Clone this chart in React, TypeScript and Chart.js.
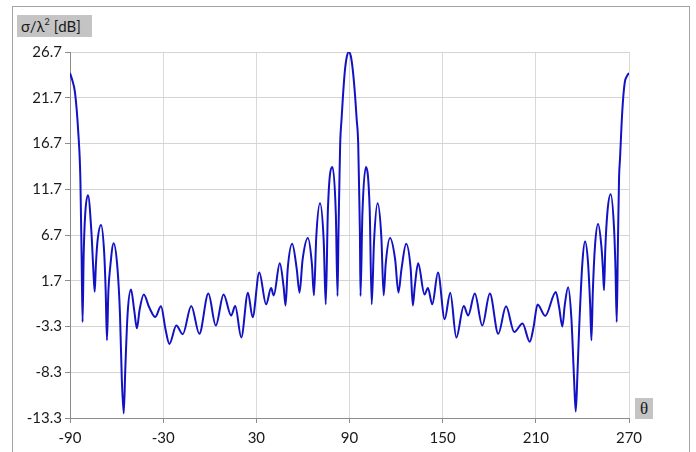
import React, { useEffect, useRef } from "react";
import { Chart, registerables } from "chart.js";

Chart.register(...registerables);

// Aspect angle θ in degrees
const theta: number[] = [
  -90, -88.5, -86.8, -84.7, -83.3, -82.5, -81.9, -81.2, -80.2, -78.4,
  -76.2, -75.0, -74.1, -73.3, -72.3, -70.0, -68.0, -67.0, -66.2, -65.3,
  -64.1, -61.9, -59.5, -57.8, -56.6, -55.4, -54.4, -52.9, -50.7, -48.6,
  -46.9, -45.2, -42.5, -39.0, -35.1, -31.4, -28.5, -26.0, -21.5, -17.4,
  -11.9, -6.7, -0.9, 3.9, 8.9, 13.8, 16.4, 20.3, 24.6, 27.6,
  31.9, 36.3, 39.5, 41.2, 45.1, 47.6, 48.8, 50.2, 53.1, 56.0,
  57.8, 59.8, 63.2, 65.8, 67.1, 68.6, 71.0, 73.4, 74.7, 76.1,
  79.0, 81.2, 82.3, 82.9, 83.4, 84.0, 84.9, 85.8, 87.0, 88.3,
  89.6, 90.9, 92.2, 93.6, 94.6, 95.6, 96.2, 96.7, 97.1, 98.3,
  100.6, 103.0, 104.3, 105.8,
  108.1, 110.5, 112.0, 113.3, 116.1, 119.4, 121.5, 123.5, 126.5, 129.4,
  130.8, 132.0, 134.2, 138.3, 140.5, 143.3, 147.0, 151.3, 154.9, 158.8,
  163.6, 166.4, 170.7, 175.5, 180.4, 185.8, 190.8, 196.1, 201.4, 206.1,
  208.5, 211.1, 216.0, 222.9, 225.0, 227.1, 228.6, 230.8, 232.9, 234.6,
  235.7, 236.8, 237.9, 240.0, 241.7, 243.6, 245.0, 245.8, 246.7, 248.1,
  250.1, 252.2, 253.2, 253.9, 254.7, 256.1, 258.2, 260.4, 261.3, 262.1,
  262.8, 263.6, 264.2, 265.7, 267.2, 268.8, 270,
];

// Normalised radar cross-section σ/λ² in dB
const rcs: number[] = [
  24.4, 23.6, 22.3, 18.0, 12.7, 4.0, -2.8, 4.5, 9.0, 11.05,
  7.0, 3.0, 0.5, 3.5, 6.0, 7.8, 4.8, 0.5, -4.8, 0.5,
  3.2, 5.8, 3.2, -2.0, -9.2, -12.8, -8.0, -1.9, 0.74, -1.6,
  -3.5, -1.5, 0.2, -1.2, -2.26, -1.1, -3.6, -5.2, -3.2, -4.15,
  -1.06, -4.1, 0.3, -3.2, 0.2, -2.1, -1.06, -4.5, 0.4, -2.3,
  2.6, -0.88, 0.9, 0.1, 3.6, 1.0, -1.0, 3.0, 5.75, 3.0,
  0.4, 4.0, 6.36, 3.5, 0.1, 6.5, 10.16, 6.0, -0.88, 9.5,
  14.14, 9.0, 0.03, 7.0, 11.6, 16.7, 19.4, 21.9, 24.6, 26.2,
  26.7, 26.2, 24.6, 21.9, 19.4, 16.7, 11.6, 7.0, 0.03, 9.0,
  14.14, 9.5, -0.88, 6.0,
  10.16, 6.5, 0.1, 3.5, 6.36, 4.0, 0.4, 3.0, 5.75, 3.0,
  -1.0, 1.0, 3.6, 0.2, 0.9, -0.88, 2.6, -2.5, 0.4, -4.5,
  -1.06, -2.1, 0.3, -3.2, 0.3, -4.1, -1.1, -3.9, -2.97, -4.97,
  -3.4, -0.9, -2.14, 0.47, -1.2, -3.3, -1.0, 1.0, -2.4, -8.95,
  -12.6, -8.5, -3.5, 3.7, 5.98, 3.7, -1.0, -4.8, 0.5, 5.5,
  7.9, 5.5, 3.0, 0.65, 5.0, 9.2, 11.16, 7.35, 3.0, -2.8,
  5.0, 13.0, 15.0, 20.3, 23.3, 24.1, 24.4,
];

const xTickValues: number[] = [-90, -30, 30, 90, 150, 210, 270];
const yTickValues: number[] = [-13.3, -8.3, -3.3, 1.7, 6.7, 11.7, 16.7, 21.7, 26.7];

const yTitleMain = "σ/λ";
const yTitleSup = "2";
const yTitleUnit = " [dB]";
const xTitle = "θ";

const FONT = "Lato, 'Open Sans', sans-serif";

export default function App() {
  const ref = useRef<HTMLCanvasElement>(null);

  useEffect(() => {
    const canvas = ref.current;
    if (!canvas) return;
    const chart = new Chart(canvas, {
      type: "line",
      data: {
        datasets: [
          {
            data: theta.map((t, i) => ({ x: t, y: rcs[i] })),
            borderColor: "#1212c4",
            borderWidth: 2,
            pointRadius: 0,
            fill: false,
            cubicInterpolationMode: "monotone",
          },
        ],
      },
      options: {
        animation: false,
        responsive: false,
        maintainAspectRatio: false,
        layout: { padding: { left: 0, top: 52, right: 67, bottom: 0 } },
        plugins: { legend: { display: false }, tooltip: { enabled: false } },
        scales: {
          x: {
            type: "linear",
            min: -90,
            max: 270,
            afterBuildTicks: (s: any) => {
              s.ticks = xTickValues.map((v) => ({ value: v }));
            },
            afterFit: (s: any) => {
              s.height = 34;
            },
            ticks: {
              autoSkip: false,
              maxRotation: 0,
              padding: 6,
              color: "#1a1a1a",
              font: { family: FONT, size: 15 },
              callback: (v: any) => String(v),
            },
            grid: {
              color: "#d9d9d9",
              lineWidth: 1,
              tickLength: 5,
              tickColor: "#8c8c8c",
            },
            border: { color: "#8c8c8c", width: 1 },
          },
          y: {
            type: "linear",
            min: -13.3,
            max: 26.7,
            afterBuildTicks: (s: any) => {
              s.ticks = yTickValues.map((v) => ({ value: v }));
            },
            afterFit: (s: any) => {
              s.width = 70;
            },
            ticks: {
              autoSkip: false,
              padding: 3,
              color: "#1a1a1a",
              font: { family: FONT, size: 15 },
              callback: (v: any) => Number(v).toFixed(1),
            },
            grid: {
              color: "#d4d4d4",
              lineWidth: 1,
              tickLength: 5,
              tickColor: "#8c8c8c",
            },
            border: { color: "#8c8c8c", width: 1 },
          },
        },
      },
    });
    return () => chart.destroy();
  }, []);

  return (
    <div
      style={{
        position: "fixed",
        left: 0,
        top: 0,
        width: 696,
        height: 452,
        overflow: "hidden",
        background: "#ffffff",
      }}
    >
      <div
        style={{
          position: "absolute",
          left: 12,
          top: 6,
          width: 678,
          height: 500,
          border: "1px solid #a3a3a3",
          boxSizing: "border-box",
        }}
      />
      <canvas
        ref={ref}
        width={696}
        height={452}
        style={{ position: "absolute", left: 0, top: 0, width: 696, height: 452 }}
      />
      <div
        style={{
          position: "absolute",
          left: 17,
          top: 15,
          width: 75,
          height: 22,
          background: "#c4c4c4",
          fontFamily: FONT,
          fontSize: 15,
          lineHeight: "22px",
          color: "#1a1a1a",
          paddingLeft: 4,
          boxSizing: "border-box",
          whiteSpace: "nowrap",
        }}
      >
        {yTitleMain}
        <sup style={{ fontSize: 9, verticalAlign: "top", lineHeight: "14px" }}>{yTitleSup}</sup>
        {yTitleUnit}
      </div>
      <div
        style={{
          position: "absolute",
          left: 635,
          top: 398,
          width: 18,
          height: 21,
          background: "#c4c4c4",
          fontFamily: "'Liberation Serif', serif",
          fontSize: 17,
          lineHeight: "21px",
          color: "#1a1a1a",
          textAlign: "center",
        }}
      >
        {xTitle}
      </div>
    </div>
  );
}
